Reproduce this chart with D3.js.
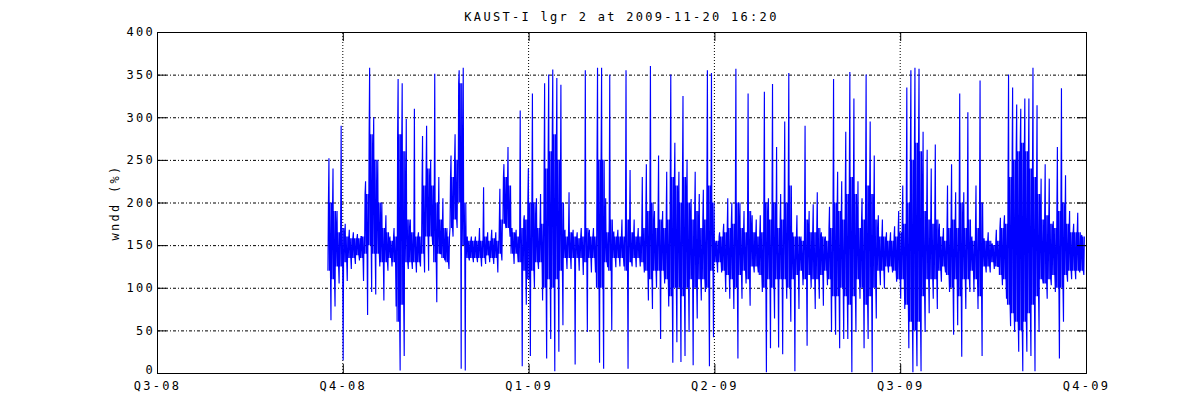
<!DOCTYPE html>
<html>
<head>
<meta charset="utf-8">
<script src="https://cdn.jsdelivr.net/npm/d3@7"></script>
<style>
  body { margin: 0; background: #fff; }
  text { font-family: "DejaVu Sans Mono", monospace; font-size: 12px; letter-spacing: 2.3px; fill: #000; }
</style>
</head>
<body>
<svg id="chart" width="1200" height="420"></svg>
<script>
// chart data
const title = "KAUST-I lgr 2 at 2009-11-20 16:20";
const yLabel = "wndd (%)";
const quarterLabels = ["Q3-08", "Q4-08", "Q1-09", "Q2-09", "Q3-09", "Q4-09"];
const yTicks = [0, 50, 100, 150, 200, 250, 300, 350, 400];

// series starts 84 days after 2008-07-01, one set of values per 2-day bin:
// hi/lo = extremes of the bin, coreHi/coreLo = band where the trace is dense
const firstDay = 84;
const binDays = 2;
const hi = [
  252, 240, 190, 290, 175, 168, 165, 163, 160, 225,
  358, 300, 250, 200, 185, 160, 170, 345, 340, 298,
  180, 310, 165, 278, 290, 250, 351, 230, 205, 170,
  255, 280, 355, 358, 160, 160, 160, 170, 218, 165,
  168, 165, 216, 245, 265, 170, 168, 308, 185, 240,
  328, 205, 210, 340, 350, 356, 346, 338, 168, 212,
  168, 165, 170, 355, 168, 170, 358, 358, 205, 350,
  166, 168, 180, 355, 238, 180, 170, 230, 245, 360,
  190, 255, 190, 236, 350, 270, 236, 325, 250, 204,
  236, 210, 215, 355, 352, 150, 165, 175, 205, 200,
  357, 200, 190, 328, 185, 180, 185, 330, 205, 339,
  265, 210, 295, 352, 165, 185, 160, 290, 190, 198,
  212, 165, 160, 195, 345, 236, 225, 283, 353, 322,
  225, 205, 350, 295, 255, 185, 180, 165, 165, 172,
  190, 220, 335, 355, 358, 357, 283, 262, 240, 268,
  175, 170, 220, 245, 212, 328, 212, 306, 160, 220,
  343, 158, 165, 152, 168, 182, 185, 350, 335, 315,
  310, 322, 322, 358, 314, 228, 245, 228, 178, 265,
  334, 232, 190, 175, 188, 162
];
const lo = [
  62, 78, 105, 15, 108, 122, 128, 132, 108, 68,
  95, 92, 125, 85, 120, 125, 78, 3, 20, 122,
  122, 118, 125, 118, 120, 150, 83, 140, 132, 122,
  160, 170, 5, 3, 132, 130, 130, 125, 128, 130,
  128, 118, 132, 170, 160, 128, 130, 8, 80, 20,
  100, 122, 85, 17, 40, 2, 25, 56, 122, 122,
  10, 120, 115, 48, 118, 118, 12, 5, 124, 50,
  124, 125, 125, 5, 125, 124, 125, 118, 85, 75,
  100, 40, 105, 78, 12, 36, 13, 20, 48, 9,
  64, 85, 95, 8, 42, 118, 118, 95, 87, 75,
  17, 87, 105, 79, 118, 118, 95, 1, 29, 64,
  30, 22, 87, 60, 2, 75, 103, 32, 100, 75,
  87, 79, 103, 48, 45, 29, 40, 40, 1, 48,
  87, 29, 40, 1, 64, 103, 99, 118, 118, 107,
  87, 75, 29, 1, 8, 2, 48, 70, 87, 75,
  107, 118, 95, 45, 56, 19, 75, 95, 95, 75,
  20, 118, 118, 122, 125, 103, 87, 55, 48, 25,
  2, 25, 20, 2, 48, 105, 87, 103, 95, 17,
  60, 107, 110, 110, 118, 115
];
const coreHi = [
  200, 190, 165, 170, 160, 158, 158, 158, 160, 210,
  280, 250, 200, 170, 165, 155, 160, 280, 260, 180,
  165, 160, 160, 220, 240, 220, 200, 180, 170, 160,
  230, 250, 340, 200, 155, 155, 155, 155, 160, 155,
  158, 155, 180, 230, 220, 165, 160, 170, 180, 200,
  200, 170, 175, 240, 260, 280, 250, 200, 160, 165,
  160, 158, 160, 170, 160, 160, 250, 250, 165, 180,
  160, 160, 160, 180, 165, 160, 160, 170, 190, 200,
  170, 180, 170, 180, 230, 220, 200, 230, 200, 180,
  190, 170, 180, 220, 200, 155, 160, 165, 170, 175,
  200, 170, 165, 190, 165, 160, 165, 200, 180, 200,
  170, 180, 200, 220, 160, 160, 155, 180, 165, 165,
  170, 160, 155, 170, 200, 190, 180, 210, 230, 210,
  170, 180, 220, 210, 180, 160, 160, 155, 155, 160,
  165, 175, 200, 250, 270, 260, 190, 180, 175, 180,
  160, 155, 170, 180, 170, 200, 170, 180, 155, 170,
  200, 155, 155, 150, 155, 170, 175, 230, 250, 260,
  270, 260, 240, 230, 210, 180, 185, 175, 170, 190,
  200, 175, 165, 165, 165, 160
];
const coreLo = [
  120, 110, 125, 125, 130, 135, 135, 138, 135, 140,
  150, 140, 140, 130, 130, 135, 130, 60, 80, 130,
  130, 130, 130, 140, 160, 160, 130, 140, 135, 130,
  170, 180, 200, 150, 135, 135, 135, 135, 135, 138,
  135, 135, 140, 175, 170, 140, 140, 130, 120, 110,
  120, 130, 130, 100, 110, 100, 110, 120, 135, 135,
  135, 135, 135, 130, 135, 135, 100, 100, 130, 120,
  135, 135, 135, 120, 130, 135, 135, 130, 120, 110,
  120, 120, 120, 110, 90, 100, 100, 90, 100, 110,
  100, 110, 110, 100, 120, 130, 130, 120, 115, 110,
  100, 115, 120, 110, 125, 125, 115, 100, 110, 100,
  110, 110, 110, 100, 110, 115, 120, 110, 115, 110,
  110, 115, 120, 110, 90, 90, 100, 90, 80, 90,
  110, 100, 80, 90, 100, 120, 120, 125, 125, 120,
  110, 110, 80, 60, 50, 60, 90, 110, 110, 110,
  120, 125, 115, 100, 110, 90, 110, 110, 120, 110,
  90, 125, 125, 130, 125, 115, 110, 80, 70, 60,
  50, 60, 70, 80, 90, 110, 105, 110, 115, 100,
  100, 115, 120, 120, 120, 120
];

const width = 1200, height = 420;
const margin = {top: 32, right: 114, bottom: 47, left: 157};
const quarterDays = 365.25 / 4;
const tickLen = 9;

const svg = d3.select("#chart");

const x = d3.scaleLinear()
    .domain([0, 5 * quarterDays])
    .range([margin.left, width - margin.right]);
const y = d3.scaleLinear()
    .domain([0, 400])
    .range([height - margin.bottom, margin.top]);

const quarterDaysList = quarterLabels.map((d, i) => i * quarterDays);

// trace through each bin: swing inside the dense band, one jump to the
// bin's high and one to its low
const points = [];
hi.forEach((h, i) => {
    const day = firstDay + i * binDays;
    const seq = [coreLo[i], coreHi[i], h, coreLo[i], coreHi[i], coreLo[i], lo[i], coreHi[i]];
    seq.forEach((v, k) => points.push([day + k * binDays / seq.length, v]));
});

// grid
const grid = svg.append("g");
grid.selectAll(".vgrid")
    .data(quarterDaysList.slice(1, -1))
    .join("line")
    .attr("x1", d => x(d)).attr("x2", d => x(d))
    .attr("y1", y(0)).attr("y2", y(400))
    .attr("stroke", "#000").attr("stroke-width", 1)
    .attr("stroke-dasharray", "1,2");
grid.selectAll(".hgrid")
    .data(yTicks.slice(1, -1))
    .join("line")
    .attr("x1", x(0)).attr("x2", x(5 * quarterDays))
    .attr("y1", d => y(d) + 0.5).attr("y2", d => y(d) + 0.5)
    .attr("stroke", "#000").attr("stroke-width", 1)
    .attr("stroke-dasharray", "3,2,1,2");

// series
svg.append("path")
    .datum(points)
    .attr("fill", "none")
    .attr("stroke", "#0000ff")
    .attr("stroke-width", 1.15)
    .attr("d", d3.line().x(d => x(d[0])).y(d => y(d[1])));

// axes, ticks inside on all four sides
svg.append("g")
    .attr("transform", `translate(0,${y(0)})`)
    .call(d3.axisBottom(x).tickValues(quarterDaysList).tickSize(-tickLen).tickPadding(8)
        .tickFormat((d, i) => quarterLabels[i]));
svg.append("g")
    .attr("transform", `translate(0,${y(400)})`)
    .call(d3.axisTop(x).tickValues(quarterDaysList).tickSize(-tickLen).tickFormat(""));
const yAxis = svg.append("g")
    .attr("transform", `translate(${x(0)},0)`)
    .call(d3.axisLeft(y).tickValues(yTicks).tickSize(-tickLen).tickPadding(2));
svg.append("g")
    .attr("transform", `translate(${x(5 * quarterDays)},0)`)
    .call(d3.axisRight(y).tickValues(yTicks).tickSize(-tickLen).tickFormat(""));

svg.selectAll(".domain").attr("stroke", "#000");
svg.selectAll(".tick line").attr("stroke", "#000");
svg.selectAll(".tick text")
    .style("font-family", "DejaVu Sans Mono, monospace")
    .style("font-size", "12px")
    .attr("fill", "#000");
// the bottom "0" sits a little higher, clear of the quarter labels
yAxis.selectAll(".tick text").filter(d => d === 0).attr("dy", "0.05em");

svg.append("text")
    .attr("x", (x(0) + x(5 * quarterDays)) / 2)
    .attr("y", 21)
    .attr("text-anchor", "middle")
    .text(title);

svg.append("text")
    .attr("transform", `translate(119,${(y(0) + y(400)) / 2}) rotate(-90)`)
    .attr("text-anchor", "middle")
    .text(yLabel);
</script>
</body>
</html>
